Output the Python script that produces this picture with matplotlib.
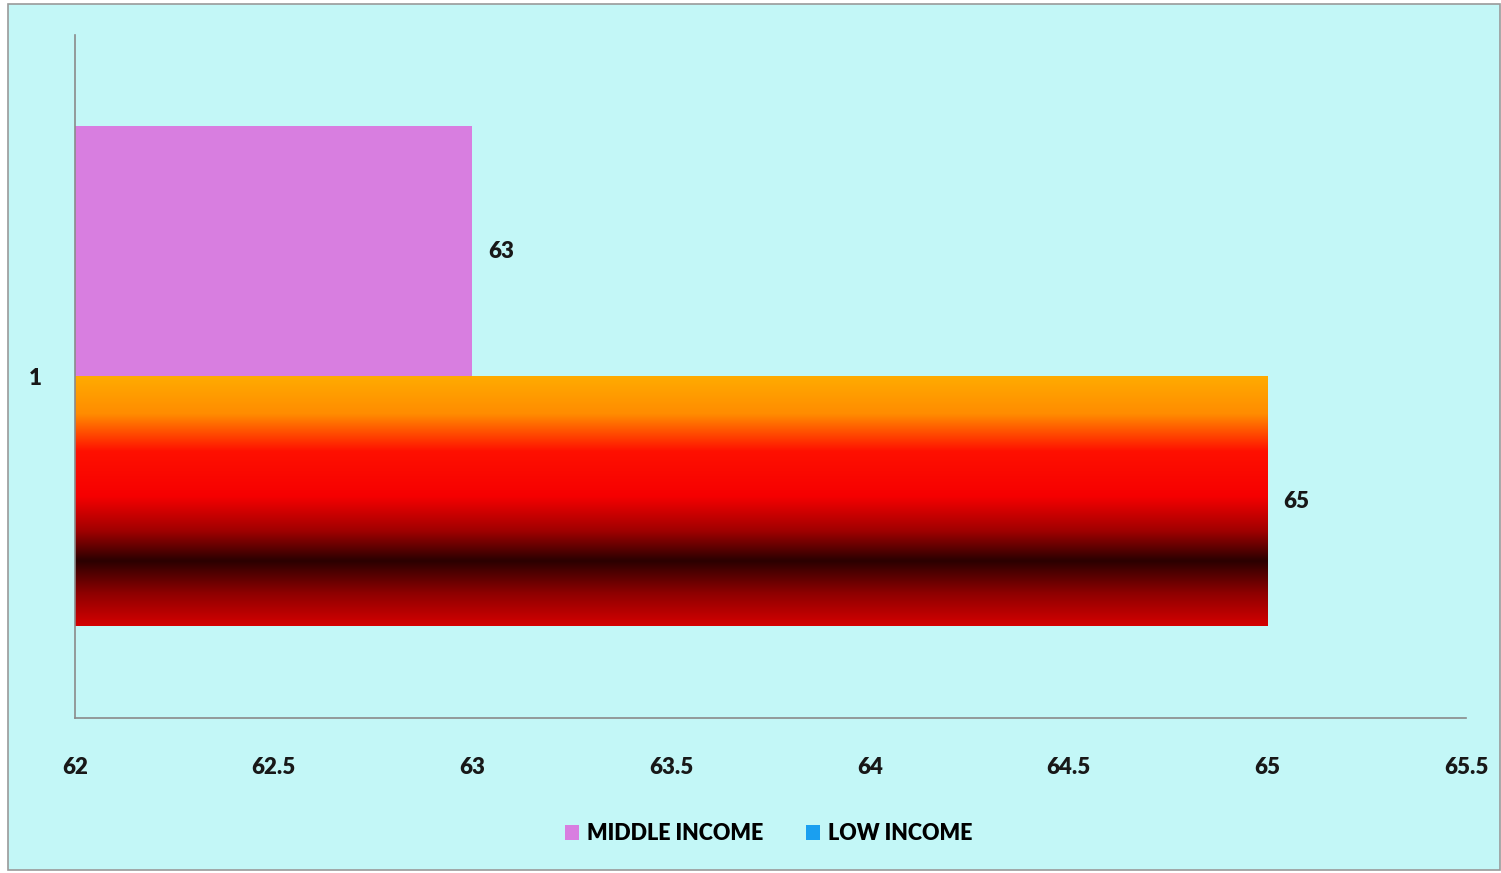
import numpy as np
import matplotlib.pyplot as plt
from matplotlib.colors import LinearSegmentedColormap
from matplotlib.patches import Rectangle, Patch

plt.rcParams['font.family'] = ['Lato', 'DejaVu Sans']
plt.rcParams['font.weight'] = 'heavy'

categories = ['1']
series = ['MIDDLE INCOME', 'LOW INCOME']
values = [63, 65]
legend_colors = ['#d87ee0', '#1a9ff0']
xticks = [62, 62.5, 63, 63.5, 64, 64.5, 65, 65.5]

bg = '#c3f7f7'
txt = '#181818'

fig = plt.figure(figsize=(15.01, 8.73), dpi=100, facecolor='white')
fig.patches.append(Rectangle((8 / 1501, 3 / 873), 1492 / 1501, 866 / 873,
                             transform=fig.transFigure, facecolor=bg,
                             edgecolor='#9a9a9a', linewidth=1.2, zorder=-10))

ax = fig.add_axes([0.05, 0.1776, 0.9267, 0.7824])
ax.set_facecolor('none')

h = 0.366
bars_mid = ax.barh(0, values[0] - 62, left=62, height=h, align='edge',
                   color=legend_colors[0])
bars_low = ax.barh(0, values[1] - 62, left=62, height=-h, align='edge',
                   color='none')

# vertical gradient fill for the low income bar
grad_cmap = LinearSegmentedColormap.from_list('lowinc', [
    (0.0, '#ffab00'), (0.15, '#ff8c00'), (0.3, '#ff1000'), (0.48, '#f60000'),
    (0.62, '#a00000'), (0.74, '#2a0000'), (0.87, '#8e0000'), (1.0, '#d40000')])
p = bars_low[0]
x0, y0 = p.get_x(), p.get_y()
x1, y1 = x0 + p.get_width(), y0 + p.get_height()
grad = np.linspace(0, 1, 256).reshape(-1, 1)
im = ax.imshow(grad, cmap=grad_cmap, aspect='auto', interpolation='bicubic',
               extent=[x0, x1, min(y0, y1), max(y0, y1)], origin='upper', zorder=2)
im.set_clip_path(p)

ax.text(values[0] + 0.04, h / 2, str(values[0]), va='center', ha='left',
        fontsize=16, fontweight='heavy', color=txt)
ax.text(values[1] + 0.04, -h / 2, str(values[1]), va='center', ha='left',
        fontsize=16, fontweight='heavy', color=txt)

ax.set_xlim(62, 65.5)
ax.set_ylim(-0.5, 0.5)
ax.set_xticks(xticks)
ax.set_xticklabels([f'{t:g}' for t in xticks])
ax.set_yticks([0])
ax.set_yticklabels(categories)
ax.tick_params(axis='x', length=0, pad=28, labelsize=16, labelcolor=txt)
ax.tick_params(axis='y', length=0, pad=24, labelsize=16, labelcolor=txt)
for s in ['top', 'right']:
    ax.spines[s].set_visible(False)
for s in ['left', 'bottom']:
    ax.spines[s].set_color('#8a8a8a')
    ax.spines[s].set_linewidth(1.2)

handles = [Patch(facecolor=c, label=l) for c, l in zip(legend_colors, series)]
fig.legend(handles=handles, loc='center', bbox_to_anchor=(0.512, 0.045), ncol=2,
           frameon=False, fontsize=15.5, handlelength=0.65, handleheight=0.65,
           handletextpad=0.35, columnspacing=2.0)

fig.savefig('out.png', dpi=100, facecolor=fig.get_facecolor())
